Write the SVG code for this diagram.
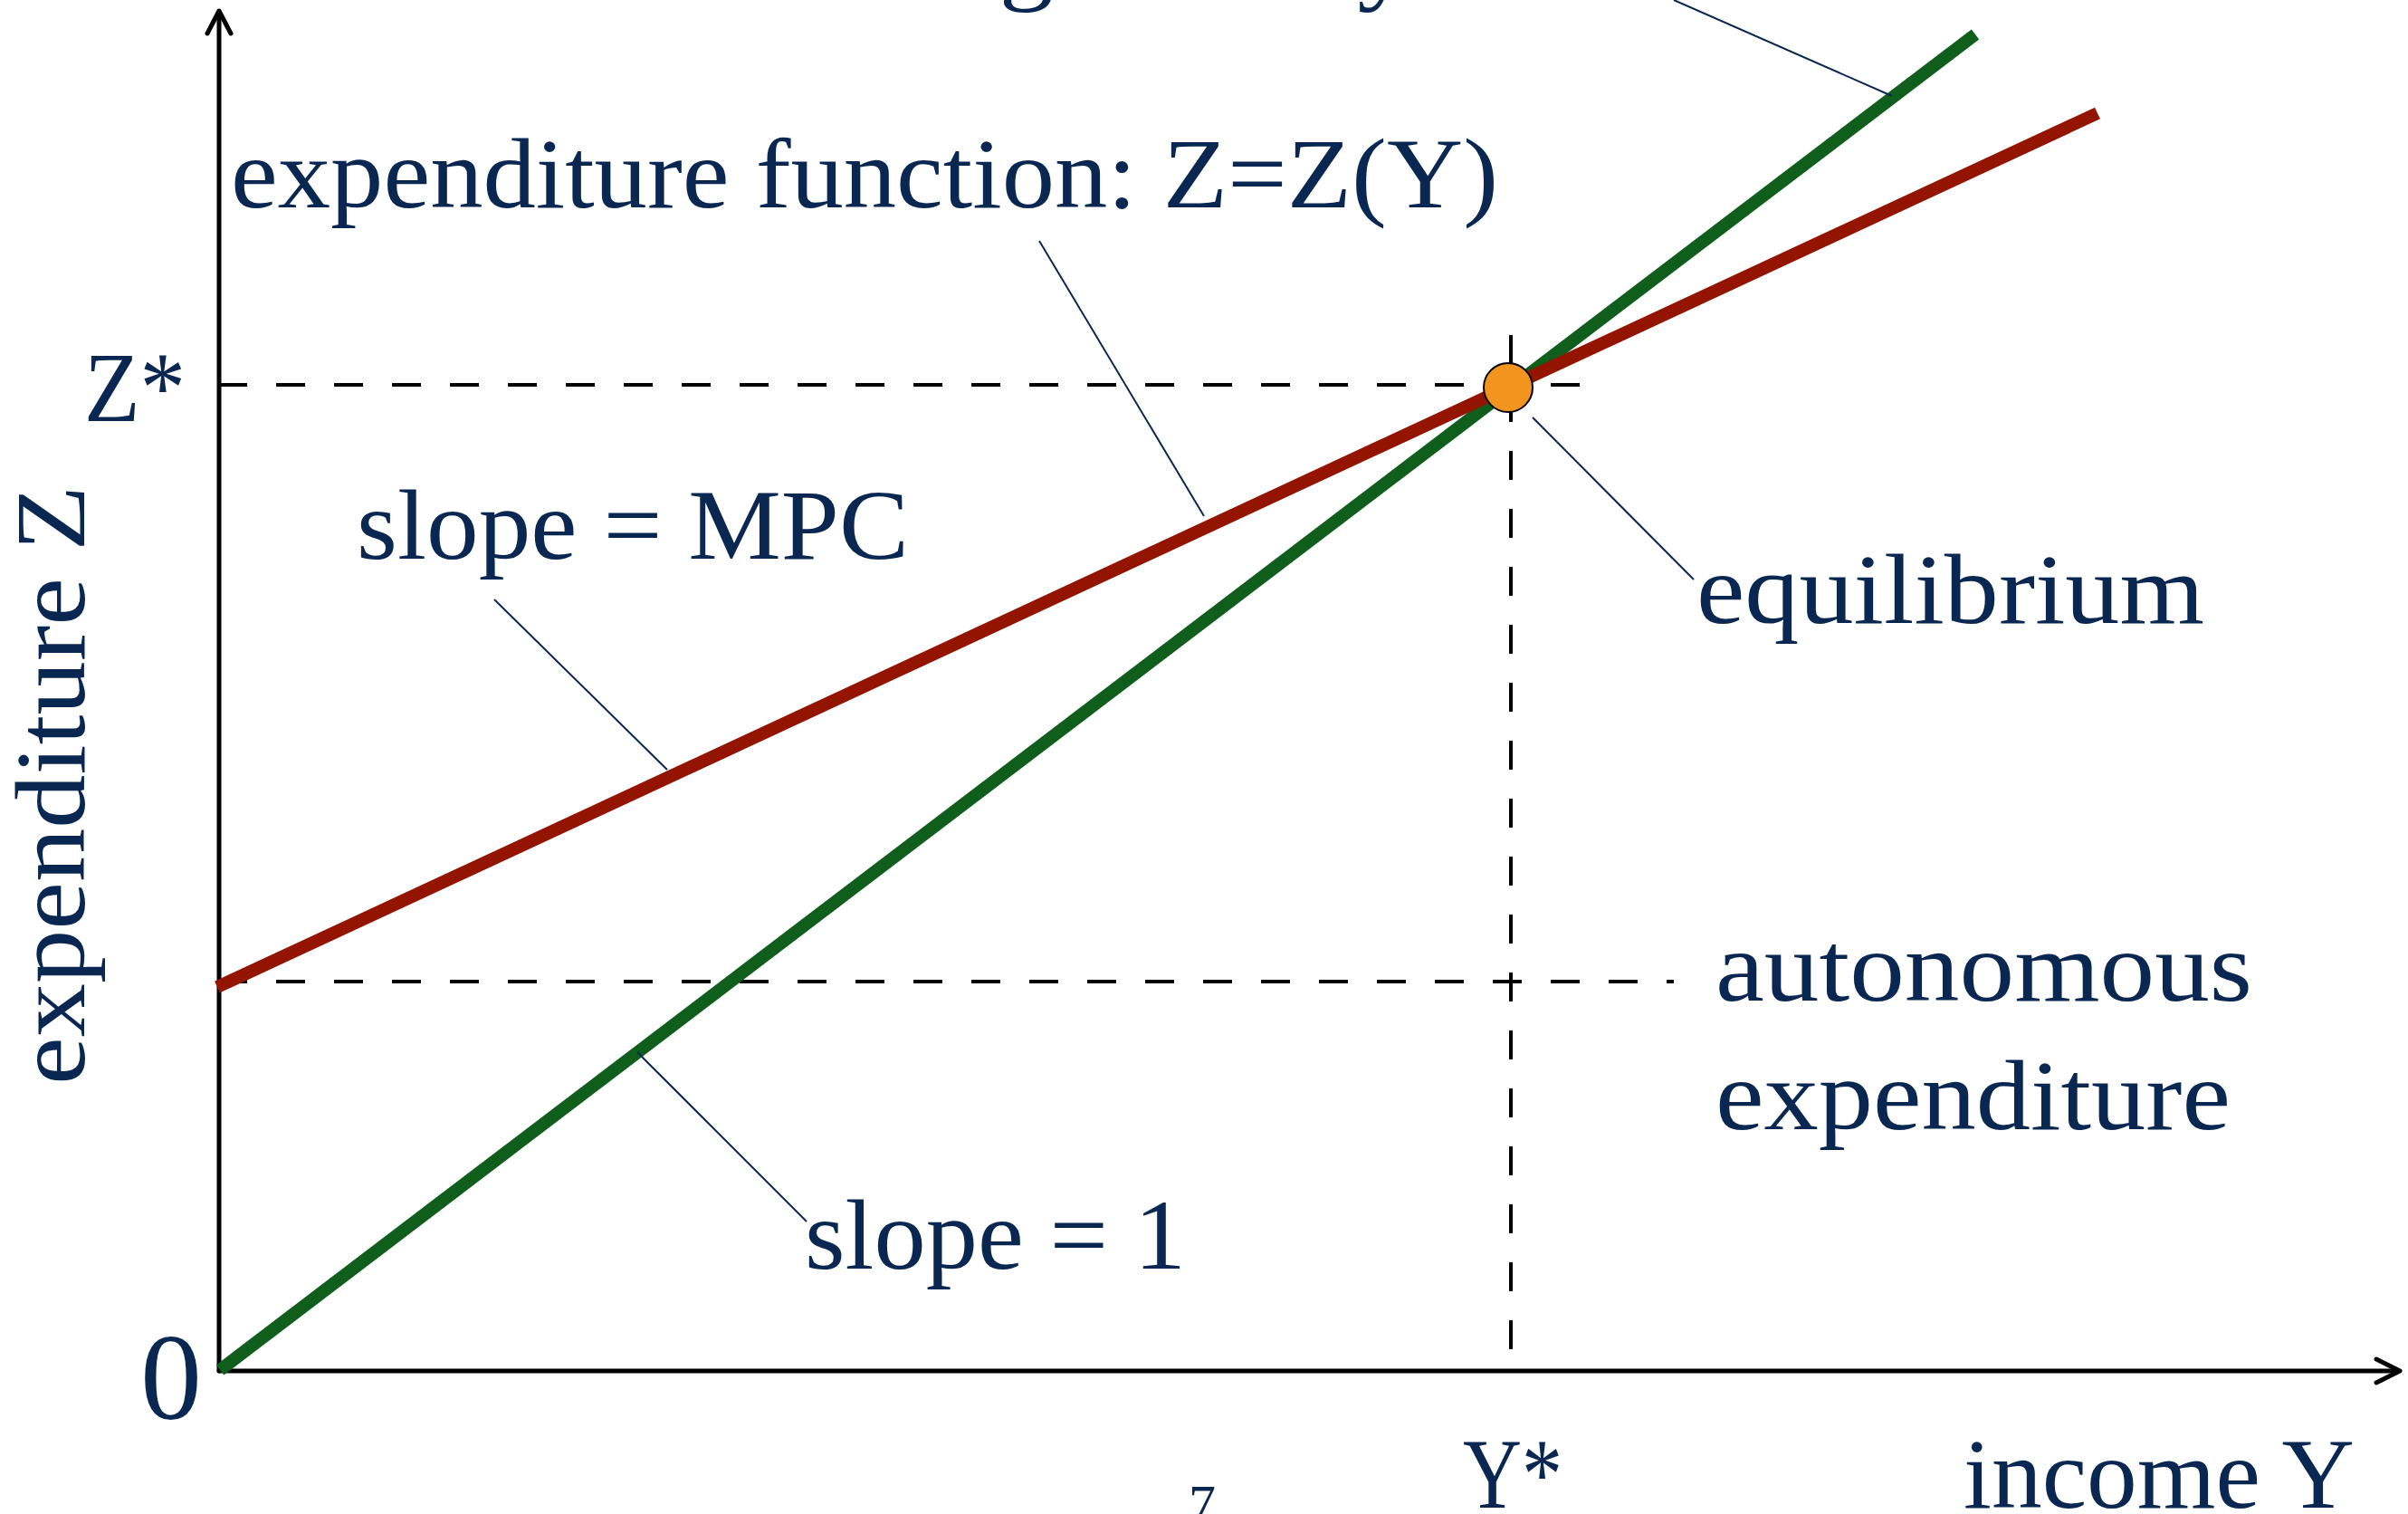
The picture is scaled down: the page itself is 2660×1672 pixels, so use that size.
<svg xmlns="http://www.w3.org/2000/svg" width="2660" height="1672" viewBox="0 0 2660 1672">
<style>
.lbl{font-family:"Liberation Serif","Times New Roman",serif;font-size:110px;fill:#0A2752}
.axis{stroke:#000;stroke-width:5;fill:none;stroke-linecap:round;stroke-linejoin:round}
.dash{stroke:#000;stroke-width:4;stroke-dasharray:32 32;fill:none}
.lead{stroke:#0A2752;stroke-width:2;fill:none}
</style>
<rect width="2660" height="1672" fill="#fff"/>
<g id="axes">
<line class="axis" x1="242" y1="1514" x2="242" y2="14"/>
<polyline class="axis" points="229,37 242,12 255,37"/>
<line class="axis" x1="242" y1="1514" x2="2648" y2="1514"/>
<polyline class="axis" points="2625,1501 2651,1514 2625,1527"/>
</g>
<g id="guides">
<line class="dash" x1="241" y1="425" x2="1745" y2="425"/>
<line class="dash" x1="241" y1="1084" x2="1849" y2="1084"/>
<line class="dash" x1="1669" y1="370" x2="1669" y2="1490"/>
</g>
<g id="line-45">
<line x1="243" y1="1513" x2="2182" y2="38" stroke="#0F5E1B" stroke-width="14"/>
</g>
<g id="expenditure-function">
<line x1="240" y1="1090" x2="2317" y2="125" stroke="#931400" stroke-width="14"/>
</g>
<g id="equilibrium-point">
<circle cx="1666" cy="428" r="27" fill="#F3941F" stroke="#000" stroke-width="2"/>
</g>
<g id="connectors">
<line class="lead" x1="1849" y1="0" x2="2090" y2="106"/>
<line class="lead" x1="1148" y1="266" x2="1330" y2="570"/>
<line class="lead" x1="546" y1="662" x2="737" y2="850"/>
<line class="lead" x1="1693" y1="461" x2="1871" y2="640"/>
<line class="lead" x1="704" y1="1162" x2="891" y2="1349"/>
</g>
<g id="labels">
<text class="lbl" x="638" y="-9" textLength="1212" lengthAdjust="spacingAndGlyphs">accounting identity: Z=Y</text>
<text class="lbl" x="255" y="229" textLength="1400" lengthAdjust="spacingAndGlyphs">expenditure function: Z=Z(Y)</text>
<text class="lbl" x="394" y="617" textLength="610" lengthAdjust="spacingAndGlyphs">slope = MPC</text>
<text class="lbl" x="1874" y="688" textLength="561" lengthAdjust="spacingAndGlyphs">equilibrium</text>
<text class="lbl" x="1895" y="1105" textLength="593" lengthAdjust="spacingAndGlyphs">autonomous</text>
<text class="lbl" x="1895" y="1247" textLength="569" lengthAdjust="spacingAndGlyphs">expenditure</text>
<text class="lbl" x="889" y="1401" textLength="421" lengthAdjust="spacingAndGlyphs">slope = 1</text>
<text class="lbl" x="93" y="465" textLength="112" lengthAdjust="spacingAndGlyphs">Z*</text>
<text class="lbl" x="155" y="1567" style="font-size:136px">0</text>
<text class="lbl" x="1616" y="1665" textLength="110" lengthAdjust="spacingAndGlyphs">Y*</text>
<text class="lbl" x="2169" y="1665" textLength="432" lengthAdjust="spacingAndGlyphs">income Y</text>
<text class="lbl" transform="translate(93,1198) rotate(-90)" x="0" y="0" textLength="662" lengthAdjust="spacingAndGlyphs">expenditure Z</text>
<text class="lbl" x="1313" y="1681" style="font-size:60px">7</text>
</g>
</svg>
